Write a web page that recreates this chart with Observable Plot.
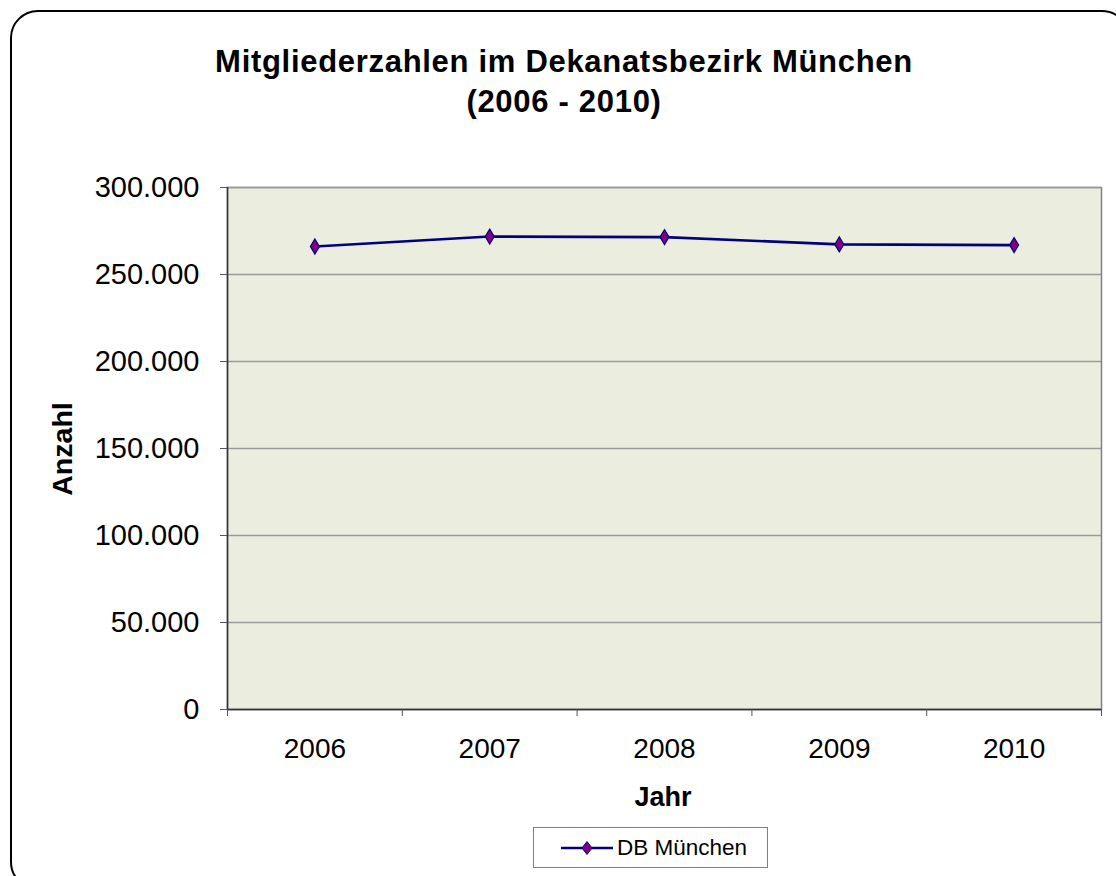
<!DOCTYPE html>
<html>
<head>
<meta charset="utf-8">
<script src="https://cdn.jsdelivr.net/npm/d3@7"></script>
<script src="https://cdn.jsdelivr.net/npm/@observablehq/plot@0.6"></script>
<style>
  html, body { margin: 0; padding: 0; background: #fff; }
  body { font-family: "Liberation Sans", Arial, sans-serif; }
  #wrap { position: relative; width: 1116px; height: 876px; overflow: hidden; }
  #frame { position: absolute; left: 10px; top: 10px; width: 1120px; height: 880px;
           border: 2.5px solid #000; border-radius: 28px; box-sizing: border-box; }
  #title { position: absolute; left: 0; top: 42px; width: 1128px; text-align: center;
           font-weight: bold; font-size: 31px; line-height: 40px; color: #000; letter-spacing: 0.7px; }
  #ylab { position: absolute; left: 62px; top: 449px; transform: translate(-50%, -50%) rotate(-90deg);
          font-weight: bold; font-size: 28.5px; white-space: nowrap; }
  #xlab { position: absolute; left: 663px; top: 797px; transform: translate(-50%, -50%);
          font-weight: bold; font-size: 27px; white-space: nowrap; }
  #legend { position: absolute; left: 533px; top: 827px; width: 235px; height: 41px;
            border: 1px solid #808080; box-sizing: border-box; background: #fff;
            display: flex; align-items: center; }
  #legend svg { margin-left: 27px; }
  #legend span { font-size: 22.5px; margin-left: 4px; }
  #chart { position: absolute; left: 0; top: 0; }
</style>
</head>
<body>
<div id="wrap">
  <div id="chart"></div>
  <div id="frame"></div>
  <div id="title">Mitgliederzahlen im Dekanatsbezirk München<br>(2006 - 2010)</div>
  <div id="ylab">Anzahl</div>
  <div id="xlab">Jahr</div>
  <div id="legend"></div>
</div>
<script>
// ---- data ----
const years = [2006, 2007, 2008, 2009, 2010];
const members = [266100, 271800, 271500, 267300, 266900];
const yTicks = [0, 50000, 100000, 150000, 200000, 250000, 300000];
const seriesName = "DB München";

const rows = years.map((y, i) => ({year: y, value: members[i]}));
const boundaries = [years[0] - 0.5, ...years.map(y => y + 0.5)];

const de = d3.formatLocale({decimal: ",", thousands: ".", grouping: [3], currency: ["", " €"]});
const fmt = de.format(",d");

const lineColor = "#000080";
const markerFill = "#800080";

// tall diamond symbol
const tallDiamond = {
  draw(context, size) {
    const r = Math.sqrt(size / Math.PI);
    const w = r * 0.9, h = r * 1.5;
    context.moveTo(0, -h);
    context.lineTo(w, 0);
    context.lineTo(0, h);
    context.lineTo(-w, 0);
    context.closePath();
  }
};

const chart = Plot.plot({
  width: 1116,
  height: 876,
  marginTop: 187,
  marginBottom: 167,
  marginLeft: 227,
  marginRight: 15,
  style: {fontFamily: "'Liberation Sans', Arial, sans-serif", fontSize: "28px", color: "#000", background: "transparent"},
  x: {type: "linear", domain: [boundaries[0], boundaries[boundaries.length - 1]], label: null},
  y: {domain: [0, 300000], label: null},
  marks: [
    Plot.frame({fill: "#EBEEDF", stroke: "#808080", strokeWidth: 1.5}),
    Plot.gridY(yTicks, {stroke: "#9a9a9a", strokeOpacity: 1, strokeWidth: 1.6}),
    Plot.ruleY([0], {stroke: "#333", strokeWidth: 1.5}),
    Plot.ruleX([boundaries[0]], {stroke: "#333", strokeWidth: 1.5}),
    Plot.axisY({ticks: yTicks, tickFormat: fmt, tickSize: 7, tickPadding: 21, fontSize: 29, stroke: "#555", label: null}),
    Plot.axisX({ticks: boundaries, tickFormat: () => "", tickSize: 7, stroke: "#555", label: null}),
    Plot.axisX({ticks: years, tickFormat: d => String(d), tickSize: 0, tickPadding: 29, fontSize: 28, label: null}),
    Plot.line(rows, {x: "year", y: "value", stroke: lineColor, strokeWidth: 2.6}),
    Plot.dot(rows, {x: "year", y: "value", symbol: tallDiamond, r: 5, fill: markerFill, stroke: lineColor, strokeWidth: 1.2})
  ]
});
document.getElementById("chart").appendChild(chart);

// legend
const leg = document.getElementById("legend");
const ns = "http://www.w3.org/2000/svg";
const ls = document.createElementNS(ns, "svg");
ls.setAttribute("width", 52); ls.setAttribute("height", 20);
ls.innerHTML = `<line x1="0" y1="10" x2="52" y2="10" stroke="${lineColor}" stroke-width="2.5"/>
  <path d="M26,3.5 L31,10 L26,16.5 L21,10 Z" fill="${markerFill}" stroke="${lineColor}" stroke-width="1"/>`;
leg.appendChild(ls);
const sp = document.createElement("span");
sp.textContent = seriesName;
leg.appendChild(sp);
</script>
</body>
</html>
